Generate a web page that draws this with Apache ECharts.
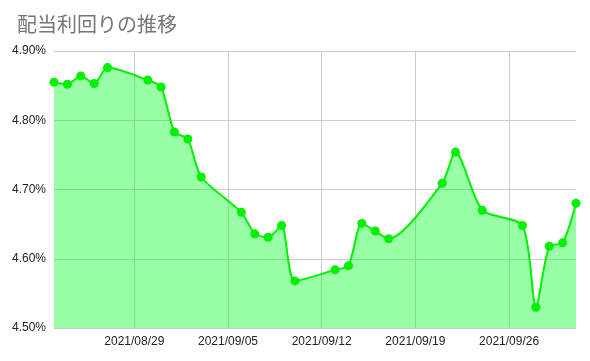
<!DOCTYPE html>
<html><head><meta charset="utf-8">
<script src="https://cdn.jsdelivr.net/npm/echarts@6/dist/echarts.min.js"></script>
<style>html,body{margin:0;padding:0;background:#fff}#c{width:590px;height:361px}</style>
</head><body><div id="c"></div>
<script>
var dates = ['2021-08-23','2021-08-24','2021-08-25','2021-08-26','2021-08-27',
  '2021-08-30','2021-08-31','2021-09-01','2021-09-02','2021-09-03',
  '2021-09-06','2021-09-07','2021-09-08','2021-09-09','2021-09-10',
  '2021-09-13','2021-09-14','2021-09-15','2021-09-16','2021-09-17',
  '2021-09-21','2021-09-22','2021-09-24',
  '2021-09-27','2021-09-28','2021-09-29','2021-09-30','2021-10-01'];
var yields = [4.855,4.852,4.864,4.853,4.876,
  4.858,4.848,4.783,4.773,4.718,
  4.667,4.636,4.631,4.648,4.568,
  4.584,4.590,4.651,4.640,4.629,
  4.709,4.754,4.670,
  4.648,4.530,4.618,4.623,4.680];
var tickDates = ['2021-08-29','2021-09-05','2021-09-12','2021-09-19','2021-09-26'];
var tickLabels = ['2021/08/29','2021/09/05','2021/09/12','2021/09/19','2021/09/26'];
var yTicks = [4.5,4.6,4.7,4.8,4.9];
var xMin = '2021-08-23', xMax = '2021-10-01';

// day number since epoch
function dn(s){var p=s.split('-');return Math.round(Date.UTC(+p[0],+p[1]-1,+p[2])/86400000);}
var tickDn = tickDates.map(dn);
var chart = echarts.init(document.getElementById('c'), null, {renderer:'canvas'});
chart.setOption({
  animation: false,
  title: {text:'配当利回りの推移', left: 12, top: 9,
    textStyle:{fontFamily:'"Noto Sans CJK JP", sans-serif', fontSize:20, fontWeight:'normal', color:'#757575'}},
  grid: {left:54, right:14, top:51, bottom:33, containLabel:false},
  xAxis: {
    type:'value', min: dn(xMin), max: dn(xMax),
    axisLine:{show:false}, axisTick:{show:false, customValues: tickDn},
    splitLine:{show:true, lineStyle:{color:'#cccccc', width:1}},
    axisLabel:{customValues: tickDn, color:'#222', fontSize:12, fontFamily:'"Liberation Sans", Arial, sans-serif', margin:8,
      formatter:function(v){var i=tickDn.indexOf(v);return i>=0?tickLabels[i]:'';}}
  },
  yAxis: {
    type:'value', min: yTicks[0], max: yTicks[yTicks.length-1], interval: 0.1,
    axisLine:{show:false}, axisTick:{show:false},
    splitLine:{lineStyle:{color:'#cccccc', width:1}},
    axisLabel:{color:'#222', fontSize:12, fontFamily:'"Liberation Sans", Arial, sans-serif', margin:8,
      formatter:function(v){return v.toFixed(2)+'%';}}
  },
  series: [{
    type:'line', smooth:0.25,
    data: dates.map(function(d,i){return [dn(d), yields[i]];}),
    symbol:'circle', symbolSize:9,
    itemStyle:{color:'#00f000'},
    lineStyle:{color:'#00f000', width:2},
    areaStyle:{color:'#00ff22', opacity:0.4, origin:'start'},
    clip:true
  }]
});
</script></body></html>
